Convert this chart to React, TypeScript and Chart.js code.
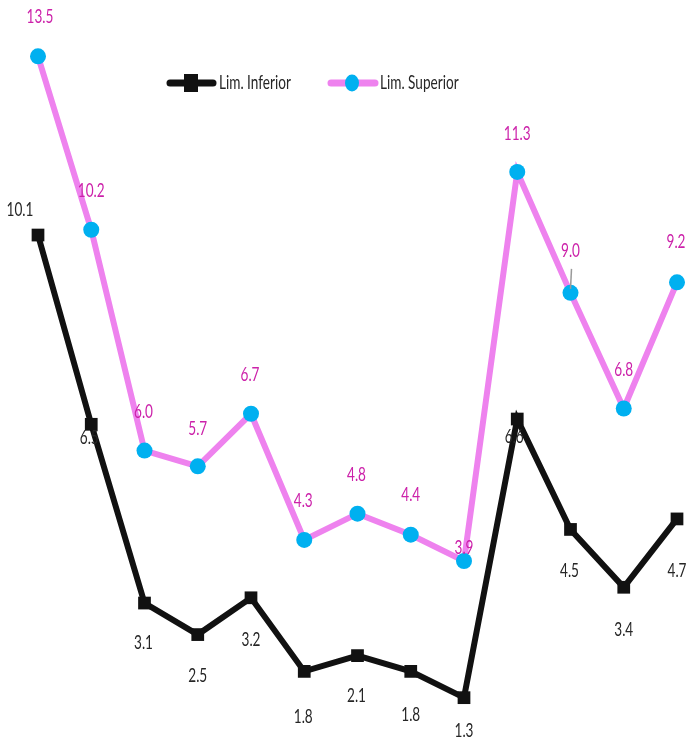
import React, { useEffect, useRef } from "react";
import { Chart, registerables } from "chart.js";

Chart.register(...registerables);

const categories = ["1", "2", "3", "4", "5", "6", "7", "8", "9", "10", "11", "12", "13"];
const limInferior = [10.1, 6.5, 3.1, 2.5, 3.2, 1.8, 2.1, 1.8, 1.3, 6.6, 4.5, 3.4, 4.7];
const limSuperior = [13.5, 10.2, 6.0, 5.7, 6.7, 4.3, 4.8, 4.4, 3.9, 11.3, 9.0, 6.8, 9.2];
const seriesNames = ["Lim. Inferior", "Lim. Superior"];

// label placement (style only)
const infLabelDx = [-18, -2, -1, 0, 0, -1, -1, 0, 0, -3, -1, 0, 0];
const infLabelDy = [-25, 13, 40, 41, 42, 45, 40, 43, 33, 18, 41, 42, 52];
const supLabelDx = [2, 0, -1, 0, -1, -1, -1, 0, 0, 0, 0, 0, -1];
const supLabelDy = [-40, -39, -39, -38, -39, -39, -39, -40, -13, -38, -42, -39, -41];

const FONT = "Lato, 'Open Sans', sans-serif";
const SX = 0.68;
const FS = 20;

function drawText(ctx: CanvasRenderingContext2D, text: string, x: number, y: number, color: string, size: number, align: CanvasTextAlign) {
  ctx.save();
  ctx.translate(x, y);
  ctx.scale(SX, 1);
  ctx.font = `${size}px ${FONT}`;
  ctx.fillStyle = color;
  ctx.textAlign = align;
  ctx.textBaseline = "middle";
  ctx.fillText(text, 0, 0);
  ctx.restore();
}

const labelPlugin = {
  id: "customLabels",
  afterDatasetsDraw(chart: any) {
    const ctx: CanvasRenderingContext2D = chart.ctx;
    const infMeta = chart.getDatasetMeta(0);
    const supMeta = chart.getDatasetMeta(1);
    infMeta.data.forEach((pt: any, i: number) => {
      drawText(ctx, limInferior[i].toFixed(1), pt.x + infLabelDx[i], pt.y + infLabelDy[i], "#262626", FS, "center");
    });
    supMeta.data.forEach((pt: any, i: number) => {
      drawText(ctx, limSuperior[i].toFixed(1), pt.x + supLabelDx[i], pt.y + supLabelDy[i], "#CC22AA", FS, "center");
      if (i === 10) {
        ctx.save();
        ctx.strokeStyle = "#9a9a9a";
        ctx.lineWidth = 1.5;
        ctx.beginPath();
        ctx.moveTo(pt.x + 1, pt.y - 24);
        ctx.lineTo(pt.x, pt.y - 4);
        ctx.stroke();
        ctx.restore();
      }
    });

    // legend
    const ly = 83;
    ctx.save();
    ctx.lineCap = "round";
    ctx.lineWidth = 7;
    ctx.strokeStyle = "#111111";
    ctx.beginPath();
    ctx.moveTo(170, ly);
    ctx.lineTo(213, ly);
    ctx.stroke();
    ctx.fillStyle = "#111111";
    ctx.fillRect(184, ly - 9, 14, 18);
    ctx.strokeStyle = "#EE82EE";
    ctx.beginPath();
    ctx.moveTo(331, ly);
    ctx.lineTo(375, ly);
    ctx.stroke();
    ctx.fillStyle = "#00B0F0";
    ctx.beginPath();
    ctx.ellipse(352, ly, 7, 8.5, 0, 0, Math.PI * 2);
    ctx.fill();
    ctx.restore();
    drawText(ctx, seriesNames[0], 219, ly, "#262626", FS, "left");
    drawText(ctx, seriesNames[1], 380, ly, "#262626", FS, "left");
  },
};

export default function App() {
  const ref = useRef<HTMLCanvasElement | null>(null);
  useEffect(() => {
    if (!ref.current) return;
    const chart = new Chart(ref.current, {
      type: "line",
      data: {
        labels: categories,
        datasets: [
          {
            label: seriesNames[0],
            data: limInferior,
            borderColor: "#111111",
            backgroundColor: "#111111",
            borderWidth: 6,
            pointStyle: "rect",
            pointRadius: 9,
            pointBorderWidth: 0,
            pointBackgroundColor: "#111111",
            tension: 0,
            clip: false,
          },
          {
            label: seriesNames[1],
            data: limSuperior,
            borderColor: "#EE82EE",
            backgroundColor: "#00B0F0",
            borderWidth: 6,
            pointStyle: "circle",
            pointRadius: 8,
            pointBorderWidth: 0,
            pointBackgroundColor: "#00B0F0",
            tension: 0,
            clip: false,
          },
        ],
      },
      options: {
        responsive: false,
        animation: false,
        layout: { padding: { left: 38, right: 16, top: 30, bottom: 0 } },
        plugins: { legend: { display: false }, tooltip: { enabled: false } },
        scales: {
          x: { display: false, offset: false },
          y: { display: false, min: 0.59, max: 14 },
        },
      },
      plugins: [labelPlugin],
    });
    return () => chart.destroy();
  }, []);
  return (
    <div style={{ position: "fixed", left: 0, top: 0, width: 693, height: 744, background: "#fff" }}>
      <canvas ref={ref} width={693} height={744} style={{ display: "block" }} />
    </div>
  );
}
